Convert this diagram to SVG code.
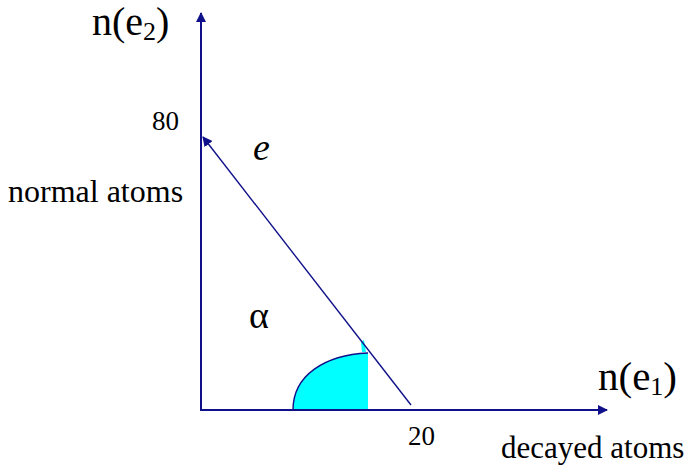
<svg xmlns="http://www.w3.org/2000/svg" width="686" height="466" viewBox="0 0 686 466">
<style>
.ax{stroke:#10108a;stroke-width:2;fill:none}
.ln{stroke:#10108a;stroke-width:1.4;fill:none}
text{font-family:"Liberation Serif","Times New Roman",Times,"DejaVu Serif",serif;fill:#000}
</style>
<defs>
<marker id="ah2" viewBox="0 0 10 10" refX="9" refY="5" markerWidth="10" markerHeight="10" orient="auto" markerUnits="userSpaceOnUse">
<path d="M0,0 L10,5 L0,10 z" fill="#10108a"/>
</marker>
</defs>
<g id="angle">
<path d="M293,410 C293,375 325,355 368,353 L368,410 Z" fill="#00ffff"/>
<path d="M293,410 C293,375 325,355 368,353" class="ln"/>
<path d="M361,342 L364,340 L366,352 L362,352 Z" fill="#00ffff"/>
</g>
<g id="connectors">
<line class="ax" x1="201" y1="411" x2="201" y2="13" marker-end="url(#ah2)"/>
<line class="ax" x1="200" y1="410" x2="607" y2="410" marker-end="url(#ah2)"/>
<line class="ln" x1="411" y1="405" x2="203" y2="137" marker-end="url(#ah2)"/>
</g>
<g id="labels">
<text x="92" y="35" font-size="40">n(e<tspan font-size="26" baseline-shift="-5">2</tspan>)</text>
<text x="152" y="130" font-size="27">80</text>
<text x="8" y="202" font-size="32">normal atoms</text>
<text x="253" y="160" font-size="38" font-style="italic">e</text>
<text x="249" y="328" font-size="38">α</text>
<text x="598" y="390" font-size="41">n(e<tspan font-size="26" baseline-shift="-5">1</tspan>)</text>
<text x="408" y="445" font-size="27">20</text>
<text x="501" y="458" font-size="31">decayed atoms</text>
</g>
</svg>
